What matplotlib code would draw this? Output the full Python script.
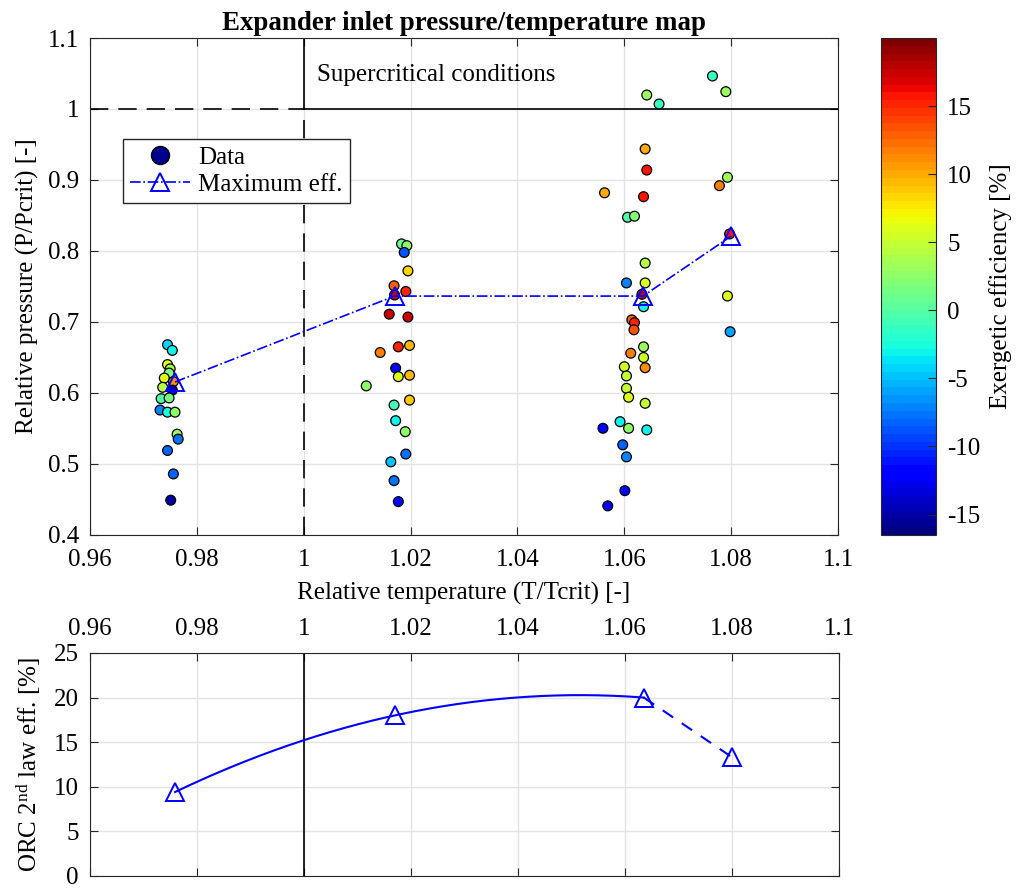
import numpy as np
import matplotlib
matplotlib.use("Agg")
import matplotlib.pyplot as plt
from matplotlib.lines import Line2D
from matplotlib.ticker import FuncFormatter, MultipleLocator

plt.rcParams['font.family'] = ['Liberation Serif', 'DejaVu Serif']
plt.rcParams['mathtext.fontset'] = 'custom'
plt.rcParams['mathtext.rm'] = 'Liberation Serif'
plt.rcParams['mathtext.it'] = 'Liberation Serif:italic'
plt.rcParams['font.size'] = 18
plt.rcParams['axes.unicode_minus'] = False

# measured data: relative temperature, relative pressure, exergetic efficiency [%]
t_rel = [0.9745, 0.9754, 0.9745, 0.9750, 0.9748, 0.9739, 0.9756, 0.9736, 0.9754,
         0.9733, 0.9748, 0.9731, 0.9745, 0.9759, 0.9763, 0.9765, 0.9745, 0.9756, 0.9751,
         1.0183, 1.0193, 1.0188, 1.0195, 1.0169, 1.0191, 1.0170, 1.0160, 1.0195, 1.0177,
         1.0198, 1.0143, 1.0172, 1.0177, 1.0198, 1.0117, 1.0198, 1.0169, 1.0172, 1.0190,
         1.0191, 1.0163, 1.0169, 1.0177,
         1.0642, 1.0665, 1.0639, 1.0642, 1.0563, 1.0636, 1.0606, 1.0619, 1.0639, 1.0604,
         1.0639, 1.0633, 1.0636, 1.0614, 1.0619, 1.0618, 1.0636, 1.0612, 1.0636, 1.0600,
         1.0639, 1.0604, 1.0604, 1.0608, 1.0639, 1.0592, 1.0560, 1.0608, 1.0642, 1.0597,
         1.0604, 1.0601, 1.0569,
         1.0765, 1.0790, 1.0793, 1.0778, 1.0797, 1.0793, 1.0798]
p_rel = [0.668, 0.660, 0.640, 0.634, 0.628, 0.621, 0.616, 0.608, 0.604,
         0.592, 0.593, 0.576, 0.573, 0.573, 0.542, 0.535, 0.519, 0.486, 0.449,
         0.810, 0.8075, 0.798, 0.772, 0.751, 0.743, 0.738, 0.711, 0.707, 0.665,
         0.667, 0.657, 0.635, 0.623, 0.625, 0.610, 0.590, 0.583, 0.561, 0.5455,
         0.514, 0.503, 0.4765, 0.447,
         1.0197, 1.007, 0.9437, 0.914, 0.882, 0.8765, 0.8475, 0.849, 0.783, 0.755,
         0.755, 0.739, 0.7215, 0.703, 0.699, 0.689, 0.665, 0.656, 0.650, 0.637,
         0.6356, 0.624, 0.6066, 0.594, 0.5855, 0.5596, 0.5503, 0.5503, 0.548, 0.527,
         0.510, 0.4624, 0.441,
         1.0465, 1.0244, 0.9038, 0.892, 0.824, 0.7366, 0.6863]
ex_eff = [-4, -3, 6, 3.5, 2, 6, 11, 4.5, -14,
          0, 1.5, -7, -2.5, 2.5, 3, -7.5, -8, -8, -15,
          1, 2.5, -9, 8.5, 13, 15, 17.5, 17.5, 17.5, 15,
          9.5, 12, -12, 6, 9.5, 2.5, 9, -1, -3, 2.5,
          -7.5, -5, -7.5, -12,
          3, -1.5, 10, 15.5, 10, 15.5, 0, 2, 4.5, -7,
          6, 17.5, -3, 13, 15, 13.5, 3, 11.5, 5.5, 5.5,
          11, 5, 5, 6, 5, -3, -12.5, 2.5, -3, -8,
          -7, -12, -12,
          -1.5, 3, 3, 12, 15.5, 6, -6]

# maximum-efficiency points
t_max = [0.9759, 1.0170, 1.0635, 1.0800]
p_max = [0.6155, 0.7365, 0.7365, 0.8210]
orc_eff = [9.4, 18.0, 20.0, 13.3]

cmap = plt.get_cmap('jet', 64)
grid_col = '#e3e3e3'
ax_col = '#262626'

fig = plt.figure(figsize=(10.22, 8.90), dpi=100)
ax = fig.add_axes([0.0881, 0.3989, 0.7319, 0.5584])
cax = fig.add_axes([0.862, 0.3989, 0.0538, 0.5584])
ax2 = fig.add_axes([0.0881, 0.0160, 0.7329, 0.2503])

# --- top panel: pressure/temperature map ---
ax.plot([0.96, 1.0], [1, 1], color='k', lw=1.2, ls=(0, (11, 6)), zorder=2)
ax.plot([1.0, 1.1], [1, 1], color='k', lw=1.2, zorder=2)
ax.plot([1.0, 1.0], [0.4, 1.0], color='k', lw=1.2, ls=(0, (11, 6)), zorder=2)
ax.plot([1.0, 1.0], [1.0, 1.1], color='k', lw=1.2, zorder=2)

sc = ax.scatter(t_rel, p_rel, c=ex_eff, cmap=cmap, vmin=-16.5, vmax=20,
                s=50, edgecolors='k', linewidths=0.9, zorder=3)
ax.plot(t_max, p_max, color='blue', ls='-.', lw=1.2, marker='^', ms=13,
        mfc='none', mec='blue', mew=1.4, zorder=4)

ax.text(1.0025, 1.048, 'Supercritical conditions', va='center', ha='left', fontsize=18)

ax.set_xlim(0.96, 1.1)
ax.set_ylim(0.4, 1.1)
ax.xaxis.set_major_locator(MultipleLocator(0.02))
ax.yaxis.set_major_locator(MultipleLocator(0.1))
fmt = FuncFormatter(lambda v, pos: '{:g}'.format(round(v, 4)))
ax.xaxis.set_major_formatter(fmt)
ax.yaxis.set_major_formatter(fmt)
ax.grid(True, color=grid_col, lw=1.0, zorder=0)
ax.set_axisbelow(True)
ax.tick_params(direction='in', top=True, right=True, length=6, colors=ax_col,
               labelcolor='k', labelsize=18)
ax.tick_params(axis='x', pad=10)
ax.tick_params(axis='y', pad=8)
for sp in ax.spines.values():
    sp.set_color(ax_col)
ax.set_xlabel('Relative temperature (T/Tcrit) [-]', fontsize=18, labelpad=8)
ax.set_ylabel('Relative pressure (P/Pcrit) [-]', fontsize=18, labelpad=6)
ax.set_title('Expander inlet pressure/temperature map', fontsize=19.4,
             fontweight='bold', pad=6)

handles = [Line2D([], [], ls='none', marker='o', ms=13, mfc='#00008f', mec='k', mew=1.0),
           Line2D([], [], color='blue', ls='-.', lw=1.2, marker='^', ms=13,
                  mfc='none', mec='blue', mew=1.4)]
leg = ax.legend(handles, ['Data', 'Maximum eff.'], loc='upper left',
                bbox_to_anchor=(0.044, 0.797), fancybox=False, framealpha=1,
                edgecolor=ax_col, fontsize=18, handlelength=2.4,
                labelspacing=0.18, borderpad=0.3, handletextpad=0.3,
                borderaxespad=0)
leg.get_frame().set_linewidth(1.0)

cb = fig.colorbar(sc, cax=cax)
cb.set_ticks([-15, -10, -5, 0, 5, 10, 15])
cb.ax.tick_params(direction='in', length=6, labelsize=18, colors=ax_col,
                  labelcolor='k', pad=8)
cb.outline.set_edgecolor(ax_col)
cb.set_label('Exergetic efficiency [%]', fontsize=18, labelpad=6)

# --- bottom panel: ORC second law efficiency ---
coef = np.polyfit(t_max[:3], orc_eff[:3], 2)
t_fit = np.linspace(t_max[0], t_max[2], 200)
ax2.axvline(1.0, color='k', lw=1.2, zorder=2)
ax2.plot(t_fit, np.polyval(coef, t_fit), color='blue', lw=1.5, zorder=3)
ax2.plot(t_max[2:], orc_eff[2:], color='blue', lw=1.5, ls=(0, (6, 5)), zorder=3)
ax2.plot(t_max, orc_eff, ls='none', marker='^', ms=13, mfc='none',
         mec='blue', mew=1.4, zorder=4)
ax2.set_xlim(0.96, 1.1)
ax2.set_ylim(0, 25)
ax2.xaxis.set_major_locator(MultipleLocator(0.02))
ax2.yaxis.set_major_locator(MultipleLocator(5))
ax2.xaxis.set_major_formatter(fmt)
ax2.grid(True, color=grid_col, lw=1.0, zorder=0)
ax2.set_axisbelow(True)
ax2.tick_params(direction='in', top=True, right=True, bottom=True, length=6,
                labeltop=True, labelbottom=False, colors=ax_col,
                labelcolor='k', labelsize=18)
ax2.tick_params(axis='x', pad=9)
ax2.tick_params(axis='y', pad=8)
for sp in ax2.spines.values():
    sp.set_color(ax_col)
ax2.set_ylabel(r'ORC 2$^{\mathrm{nd}}$ law eff. [%]', fontsize=18, labelpad=8)

fig.savefig('out.png', dpi=100)
